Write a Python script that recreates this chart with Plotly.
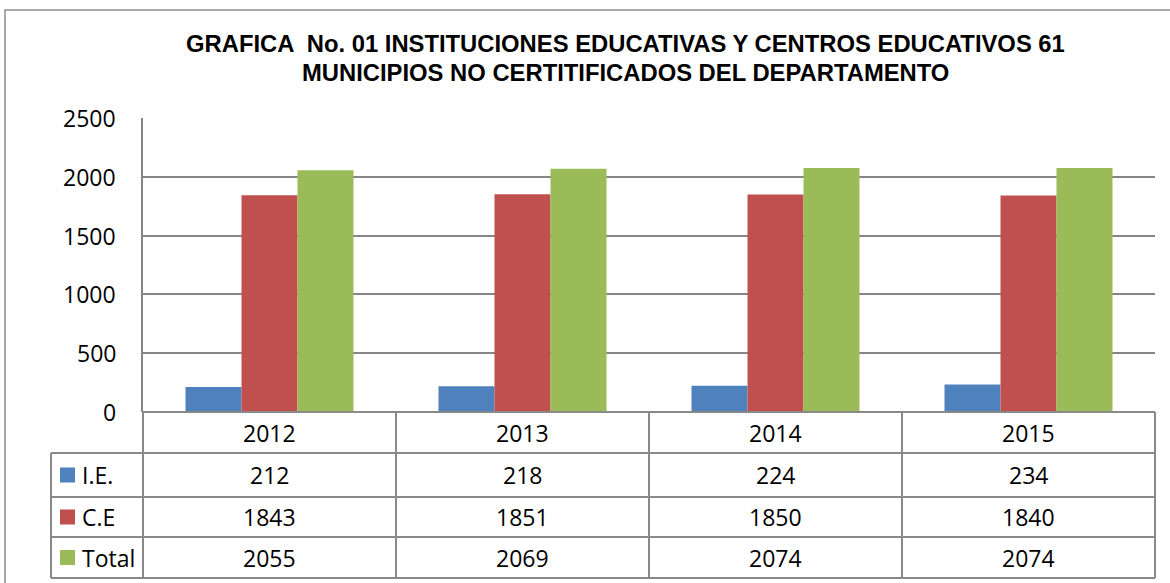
import plotly.graph_objects as go

# ---- data ----
years = ["2012", "2013", "2014", "2015"]
series_names = ["I.E.", "C.E", "Total"]
ie_values = [212, 218, 224, 234]
ce_values = [1843, 1851, 1850, 1840]
total_values = [2055, 2069, 2074, 2074]
colors = ["#4F81BD", "#C0504D", "#9BBB59"]
title_lines = ["GRAFICA  No. 01 INSTITUCIONES EDUCATIVAS Y CENTROS EDUCATIVOS 61",
               "MUNICIPIOS NO CERTITIFICADOS DEL DEPARTAMENTO"]
y_ticks = [0, 500, 1000, 1500, 2000, 2500]

W, H = 1170, 583
L, R, T, B = 143, 15, 118, 171
PW, PH = W - L - R, H - T - B


def px(p):
    return (p - L) / PW


def py(p):
    return (H - B - p) / PH


values = [ie_values, ce_values, total_values]
fig = go.Figure()
for name, vals, c in zip(series_names, values, colors):
    fig.add_trace(go.Bar(x=years, y=vals, name=name, marker=dict(color=c, line=dict(width=0))))

line_col = "#898989"
shapes = []
annotations = []
font_main = dict(family="Open Sans", size=23, color="#000000")

# outer chart border
shapes.append(dict(type="rect", xref="paper", yref="paper", x0=px(5), x1=px(1180), y0=py(10), y1=py(600),
                   line=dict(color="#8c8c8c", width=1.5), fillcolor="rgba(0,0,0,0)", layer="below"))

# table geometry (pixels)
row_edges = [412, 453, 497, 537, 578]
col_left = 51
n = len(years)
col_edges = [L + PW * i / n for i in range(n + 1)]

# horizontal lines
for i, yy in enumerate(row_edges):
    x0 = col_left if i >= 1 else L
    shapes.append(dict(type="line", xref="paper", yref="paper", x0=px(x0), x1=px(L + PW), y0=py(yy), y1=py(yy),
                       line=dict(color=line_col, width=2)))
# vertical lines
for j, xx in enumerate(col_edges):
    shapes.append(dict(type="line", xref="paper", yref="paper", x0=px(xx), x1=px(xx), y0=py(row_edges[0]),
                       y1=py(row_edges[-1]), line=dict(color=line_col, width=2)))
shapes.append(dict(type="line", xref="paper", yref="paper", x0=px(col_left), x1=px(col_left), y0=py(row_edges[1]),
                   y1=py(row_edges[-1]), line=dict(color=line_col, width=2)))

# header years
for j, yr in enumerate(years):
    cx = (col_edges[j] + col_edges[j + 1]) / 2
    annotations.append(dict(x=px(cx), y=py((row_edges[0] + row_edges[1]) / 2), xref="paper", yref="paper",
                            text=yr, showarrow=False, font=font_main, xanchor="center", yanchor="middle"))
# rows
for i, (name, vals, c) in enumerate(zip(series_names, values, colors)):
    ry0, ry1 = row_edges[i + 1], row_edges[i + 2]
    cy = (ry0 + ry1) / 2
    shapes.append(dict(type="rect", xref="paper", yref="paper", x0=px(60), x1=px(75), y0=py(cy - 7.5),
                       y1=py(cy + 7.5), fillcolor=c, line=dict(width=0)))
    annotations.append(dict(x=px(80), y=py(cy), xref="paper", yref="paper", text=name, showarrow=False,
                            font=font_main, xanchor="left", yanchor="middle"))
    for j, v in enumerate(vals):
        cx = (col_edges[j] + col_edges[j + 1]) / 2
        annotations.append(dict(x=px(cx), y=py(cy), xref="paper", yref="paper", text=str(v), showarrow=False,
                                font=font_main, xanchor="center", yanchor="middle"))

# y tick labels (as annotations for exact placement)
for t in y_ticks:
    annotations.append(dict(x=px(118), y=t, xref="paper", yref="y", text=str(t), showarrow=False,
                            font=font_main, xanchor="right", yanchor="middle"))

# title
for txt, yc in zip(title_lines, [44, 72]):
    annotations.append(dict(x=px(625), y=py(yc), xref="paper", yref="paper", text="<b>" + txt + "</b>",
                            showarrow=False, font=dict(family="Liberation Sans", size=23.8, color="#000000"),
                            xanchor="center", yanchor="middle"))

fig.update_layout(
    width=W, height=H,
    margin=dict(l=L, r=R, t=T, b=B, pad=0),
    paper_bgcolor="white", plot_bgcolor="white",
    barmode="group", bargap=0.336, bargroupgap=0,
    showlegend=False,
    shapes=shapes, annotations=annotations,
    xaxis=dict(showticklabels=False, ticks="", showgrid=False, showline=False, zeroline=False,
               range=[-0.5, 3.5], fixedrange=True),
    yaxis=dict(range=[0, 2500], tickvals=y_ticks, showticklabels=False, ticks="", showgrid=True,
               gridcolor="#868686", gridwidth=1.5, showline=True, linecolor="#868686", linewidth=1.5,
               zeroline=False, fixedrange=True),
)

fig.write_html("out.html", config={"displayModeBar": False},
               post_script="document.body.style.margin='0';document.body.style.padding='0';")
